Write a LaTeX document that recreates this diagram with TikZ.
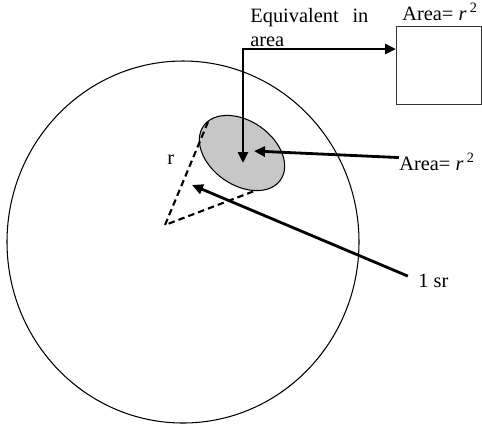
\documentclass[tikz,border=0pt]{standalone}
\usepackage{fontspec}
\setmainfont{Liberation Serif}
\usetikzlibrary{arrows.meta,positioning,shapes.geometric}

\begin{document}
\begin{tikzpicture}[
  >={Triangle[length=0.22cm, width=0.2cm]},
  lbl/.style={
    inner sep=0pt,
    font=\fontsize{11.6}{13.7}\selectfont,
    align=left
  },
  patch/.style={
    ellipse, draw=black, line width=0.6pt,
    fill=black!22,
    minimum width=1.88cm, minimum height=1.28cm,
    inner sep=0pt
  },
  conn/.style={->, line width=1.6pt},
  cone/.style={dash pattern=on 0.13cm off 0.08cm, line width=1.2pt}
]
\useasboundingbox (0,0) rectangle (9.64,-8.56);

% sphere
\draw[line width=0.6pt] (3.66,-4.84) ellipse (3.52cm and 3.62cm);

% patch and its cone
\node[patch, rotate=-35] (patch) at (4.84,-3.06) {};
\coordinate (apex) at (3.30,-4.50);
\coordinate (ctop) at (4.16,-2.44);
\coordinate (cbot) at (5.14,-3.80);
\draw[cone] (ctop) -- (apex) -- (cbot);

% square of same area
\node[draw=black!80, line width=0.6pt, anchor=north west, inner sep=0pt,
  minimum width=1.70cm, minimum height=1.56cm] (square) at (7.92,-0.52) {};

\node[lbl, text width=2.36cm, anchor=north west] (equiv) at (5.00,-0.15)
  {Equivalent\hfill in\\area};
\node[lbl, anchor=base west] (areatop) at (8.04,-0.41) {Area= \textit{r}\,\textsuperscript{2}};
\node[lbl, anchor=base west] (arearight) at (7.98,-3.40) {Area= \textit{r}\,\textsuperscript{2}};
\node[lbl, anchor=base west] (sr) at (8.36,-5.74) {1 sr};
\node[lbl, anchor=base west] (rlab) at (3.34,-3.28) {r};

\coordinate (corner) at (4.86,-0.98);
\coordinate (patchtip) at (4.86,-3.26);
\coordinate (sidetip) at (5.08,-3.02);
\coordinate (srtip) at (3.84,-3.70);

\draw[conn, <->] (square.west |- corner) -- (corner) -- (patchtip);
\draw[conn] ([yshift=0.08cm]arearight.west) -- (sidetip);
\draw[conn, shorten <=0.22cm] (sr.west) -- (srtip);
\end{tikzpicture}
\end{document}
